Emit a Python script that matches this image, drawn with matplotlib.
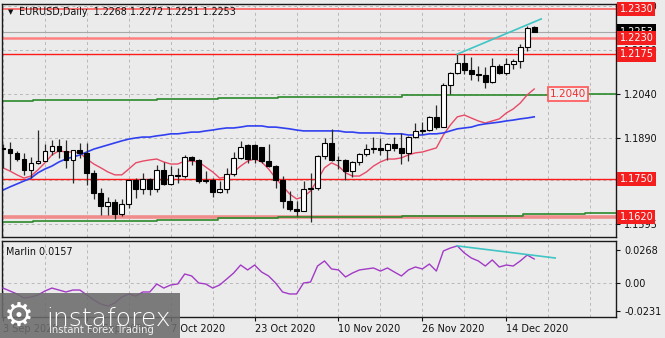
import matplotlib
matplotlib.use('Agg')
import matplotlib.pyplot as plt
import matplotlib.transforms as mtransforms
from matplotlib.patches import Rectangle

plt.rcParams['font.family'] = ['DejaVu Sans']

# ---------------- data ----------------
date_tick_idx = [0, 12, 24, 36, 48, 60, 72]
date_tick_labels = ['3 Sep 2020', '21 Sep 2020', '7 Oct 2020', '23 Oct 2020',
                    '10 Nov 2020', '26 Nov 2020', '14 Dec 2020']

opens = [1.1854, 1.1851, 1.1837, 1.1818, 1.1779, 1.1803, 1.1813, 1.1845, 1.1862, 1.1846,
         1.1815, 1.1849, 1.1840, 1.1769, 1.1702, 1.1659, 1.1671, 1.1632, 1.1666, 1.1745,
         1.1717, 1.1749, 1.1716, 1.1782, 1.1734, 1.1765, 1.1760, 1.1825, 1.1814, 1.1746,
         1.1746, 1.1705, 1.1717, 1.1767, 1.1820, 1.1866, 1.1866, 1.1859, 1.1813, 1.1795,
         1.1746, 1.1675, 1.1646, 1.1642, 1.1716, 1.1720, 1.1828, 1.1874, 1.1815, 1.1814,
         1.1776, 1.1807, 1.1834, 1.1853, 1.1857, 1.1850, 1.1870, 1.1856, 1.1839, 1.1892,
         1.1915, 1.1917, 1.1962, 1.1927, 1.2071, 1.2113, 1.2146, 1.2121, 1.2108, 1.2105,
         1.2081, 1.2134, 1.2110, 1.2143, 1.2151, 1.2199, 1.2268]
highs = [1.1869, 1.1875, 1.1846, 1.1837, 1.1826, 1.1917, 1.1871, 1.1883, 1.1888, 1.1882,
         1.1850, 1.1873, 1.1872, 1.1779, 1.1720, 1.1688, 1.1680, 1.1681, 1.1745, 1.1755,
         1.1770, 1.1752, 1.1798, 1.1809, 1.1793, 1.1786, 1.1831, 1.1828, 1.1818, 1.1776,
         1.1755, 1.1744, 1.1789, 1.1843, 1.1881, 1.1870, 1.1868, 1.1860, 1.1870, 1.1797,
         1.1760, 1.1708, 1.1675, 1.1742, 1.1770, 1.1833, 1.1891, 1.1920, 1.1829, 1.1818,
         1.1812, 1.1838, 1.1869, 1.1893, 1.1891, 1.1874, 1.1892, 1.1906, 1.1897, 1.1941,
         1.1943, 1.1965, 1.2004, 1.2077, 1.2114, 1.2176, 1.2178, 1.2167, 1.2134, 1.2133,
         1.2162, 1.2143, 1.2163, 1.2160, 1.2209, 1.2273, 1.2272]
lows = [1.1789, 1.1781, 1.1810, 1.1765, 1.1755, 1.1800, 1.1810, 1.1831, 1.1822, 1.1789,
        1.1737, 1.1823, 1.1728, 1.1683, 1.1628, 1.1627, 1.1612, 1.1625, 1.1651, 1.1685,
        1.1700, 1.1695, 1.1707, 1.1728, 1.1728, 1.1737, 1.1755, 1.1796, 1.1735, 1.1735,
        1.1689, 1.1702, 1.1703, 1.1761, 1.1817, 1.1803, 1.1803, 1.1803, 1.1791, 1.1718,
        1.1650, 1.1640, 1.1622, 1.1640, 1.1603, 1.1711, 1.1818, 1.1810, 1.1783, 1.1745,
        1.1756, 1.1798, 1.1829, 1.1838, 1.1832, 1.1814, 1.1846, 1.1801, 1.1813, 1.1889,
        1.1905, 1.1914, 1.1922, 1.1926, 1.2041, 1.2109, 1.2107, 1.2088, 1.2083, 1.2059,
        1.2079, 1.2108, 1.2104, 1.2125, 1.2130, 1.2186, 1.2251]
closes = [1.1851, 1.1837, 1.1818, 1.1779, 1.1803, 1.1813, 1.1845, 1.1862, 1.1846, 1.1815,
          1.1849, 1.1840, 1.1769, 1.1702, 1.1659, 1.1671, 1.1632, 1.1666, 1.1745, 1.1717,
          1.1749, 1.1716, 1.1782, 1.1734, 1.1765, 1.1760, 1.1825, 1.1814, 1.1744, 1.1743,
          1.1705, 1.1717, 1.1767, 1.1820, 1.1860, 1.1818, 1.1818, 1.1813, 1.1795, 1.1746,
          1.1675, 1.1646, 1.1642, 1.1716, 1.1720, 1.1828, 1.1874, 1.1815, 1.1814, 1.1776,
          1.1807, 1.1834, 1.1853, 1.1857, 1.1850, 1.1870, 1.1856, 1.1839, 1.1892, 1.1915,
          1.1917, 1.1962, 1.1927, 1.2071, 1.2113, 1.2146, 1.2121, 1.2108, 1.2105, 1.2081,
          1.2134, 1.2110, 1.2143, 1.2151, 1.2199, 1.2265, 1.2253]

red_ma = [1.1788, 1.1777, 1.1764, 1.1753, 1.1760, 1.1781, 1.1805, 1.1832, 1.1846, 1.1842,
          1.1842, 1.1839, 1.1818, 1.1801, 1.1788, 1.1774, 1.1764, 1.1764, 1.1784, 1.1805,
          1.1811, 1.1815, 1.1818, 1.1808, 1.1801, 1.1801, 1.1811, 1.1811, 1.1808, 1.1791,
          1.1774, 1.1753, 1.1757, 1.1774, 1.1794, 1.1811, 1.1818, 1.1808, 1.1784, 1.1753,
          1.1726, 1.1699, 1.1682, 1.1689, 1.1709, 1.1747, 1.1788, 1.1805, 1.1794, 1.1771,
          1.1760, 1.1760, 1.1774, 1.1794, 1.1808, 1.1818, 1.1818, 1.1822, 1.1832, 1.1839,
          1.1842, 1.1849, 1.1856, 1.1900, 1.1934, 1.1962, 1.1968, 1.1958, 1.1948, 1.1941,
          1.1948, 1.1955, 1.1975, 1.1989, 1.2009, 1.2037, 1.2057]
blue_ma = [1.1712, 1.1723, 1.1733, 1.1743, 1.1753, 1.1771, 1.1784, 1.1794, 1.1808, 1.1818,
           1.1825, 1.1832, 1.1842, 1.1852, 1.1859, 1.1866, 1.1873, 1.1880, 1.1886, 1.1890,
           1.1893, 1.1893, 1.1897, 1.1900, 1.1904, 1.1904, 1.1907, 1.1910, 1.1910, 1.1914,
           1.1917, 1.1921, 1.1924, 1.1924, 1.1927, 1.1931, 1.1931, 1.1931, 1.1927, 1.1927,
           1.1924, 1.1921, 1.1917, 1.1914, 1.1914, 1.1914, 1.1914, 1.1914, 1.1914, 1.1910,
           1.1910, 1.1907, 1.1907, 1.1907, 1.1907, 1.1904, 1.1904, 1.1904, 1.1900, 1.1900,
           1.1900, 1.1904, 1.1904, 1.1907, 1.1914, 1.1921, 1.1924, 1.1927, 1.1934, 1.1938,
           1.1941, 1.1944, 1.1948, 1.1951, 1.1955, 1.1958, 1.1962]

green_breaks = [-1, 4.3, 13.2, 22.0, 30.8, 39.3, 48.2, 57.1, 65.8, 74.4, 83.3, 90]
green_upper = [1.2016, 1.2019, 1.2021, 1.2023, 1.2025, 1.2029, 1.2031, 1.2035, 1.2036, 1.2038, 1.2040]
green_lower = [1.1603, 1.1607, 1.1608, 1.1610, 1.1617, 1.1619, 1.1620, 1.1624, 1.1625, 1.1631, 1.1634]

marlin = [-0.0041, -0.0065, -0.0089, -0.0122, -0.0114, -0.0097, -0.0065, -0.0041, -0.0057, -0.0073,
          -0.0057, -0.0057, -0.0097, -0.0138, -0.0171, -0.0187, -0.0162, -0.0114, -0.0089, -0.0106,
          -0.0073, -0.0073, -0.0008, -0.0041, -0.0016, -0.0008, 0.0073, 0.0057, 0.0000, -0.0008,
          -0.0041, -0.0016, 0.0032, 0.0081, 0.0146, 0.0106, 0.0146, 0.0089, 0.0057, 0.0000,
          -0.0073, -0.0089, -0.0089, 0.0000, 0.0008, 0.0138, 0.0179, 0.0114, 0.0106, 0.0049,
          0.0081, 0.0106, 0.0114, 0.0122, 0.0097, 0.0122, 0.0089, 0.0057, 0.0106, 0.0130,
          0.0114, 0.0154, 0.0097, 0.0260, 0.0284, 0.0301, 0.0244, 0.0203, 0.0179, 0.0138,
          0.0187, 0.0130, 0.0146, 0.0138, 0.0179, 0.0227, 0.0195]

levels = [1.2330, 1.2230, 1.2175, 1.1750, 1.1620]
level_colors = ['#ff5c5c', '#ff8080', '#ff1a1a', '#ff1a1a', '#f08c8c']
level_widths = [1.2, 1.8, 1.0, 1.0, 2.6]
bid_price = 1.2253
marked_level = 1.2040

price_ticks = [1.2340, 1.2190, 1.2040, 1.1890, 1.1745, 1.1595]
price_tick_labels = ['1.2340', '1.2190', '1.2040', '1.1890', '1.1745', '1.1595']
marlin_ticks = [0.0268, 0.0, -0.0231]
marlin_tick_labels = ['0.0268', '0.00', '-0.0231']

trend_main_x = [65, 77]
trend_main_y = [1.2176, 1.2296]
trend_ind_x = [65, 79]
trend_ind_y = [0.0301, 0.0203]

title_text = 'EURUSD,Daily  1.2268 1.2272 1.2251 1.2253'
ind_label = 'Marlin 0.0157'

# ---------------- figure ----------------
W, H = 665, 338
fig = plt.figure(figsize=(W / 100, H / 100), dpi=100)
bg = '#ebebeb'
fig.patch.set_facecolor(bg)

x_left, x_right = -0.14, 87.7
ax = fig.add_axes([2 / W, 1 - 237 / H, 614 / W, 233 / H])
ax2 = fig.add_axes([2 / W, 1 - 317 / H, 614 / W, 76 / H])
for a in (ax, ax2):
    a.set_facecolor(bg)
    a.set_xlim(x_left, x_right)
    for s in a.spines.values():
        s.set_color('#1a1a1a')
        s.set_linewidth(1.0)
ax.set_ylim(1.1552, 1.2347)
ax2.set_ylim(-0.0276, 0.0341)

grid_kw = dict(color='#b9b9b9', lw=0.7, ls=(0, (3, 3)), zorder=0.5)
for g in range(0, 88, 6):
    ax.axvline(g, **grid_kw)
    ax2.axvline(g, **grid_kw)
for p in price_ticks:
    ax.axhline(p, **grid_kw)
ax2.axhline(0.0, **grid_kw)

# horizontal levels
for lv, c, w in zip(levels, level_colors, level_widths):
    ax.axhline(lv, color=c, lw=w, zorder=1)
ax.axhline(bid_price, color='#a8a8a8', lw=0.8, zorder=1)

# green step lines
ax.step(green_breaks, green_upper + [green_upper[-1]], where='post', color='#2b8a2b', lw=1.2, zorder=1.5)
ax.step(green_breaks, green_lower + [green_lower[-1]], where='post', color='#2b8a2b', lw=1.2, zorder=1.5)

idx = list(range(len(opens)))
# moving averages
ax.plot(idx, red_ma, color='#e84a66', lw=1.0, zorder=2)
ax.plot(idx, blue_ma, color='#3040f0', lw=1.2, zorder=2)

# candles
body_w = 0.68
for i, o, h, l, c in zip(idx, opens, highs, lows, closes):
    ax.vlines(i, l, h, color='#2a2a2a', lw=0.9, zorder=3)
    bottom = min(o, c)
    height = max(abs(c - o), 0.00012)
    fc = 'white' if c >= o else 'black'
    ax.bar(i, height, bottom=bottom, width=body_w, facecolor=fc, edgecolor='black',
           linewidth=0.8, zorder=3.5)

ax.plot(trend_main_x, trend_main_y, color='#40c4c4', lw=1.2, zorder=4)

# axis ticks
ax.set_xticks([])
ax.yaxis.tick_right()
ax.set_yticks(price_ticks)
ax.set_yticklabels(price_tick_labels)
ax.tick_params(axis='y', length=3, width=0.8, pad=3, labelsize=7, colors='#111111')

# right side price labels
trans = mtransforms.blended_transform_factory(fig.transFigure, ax.transData)
fs = 7
for lv in levels:
    ax.text(619.5 / W, lv, f'{lv:.4f}', transform=trans, fontsize=fs, color='white',
            va='center', ha='left', zorder=10, clip_on=False,
            bbox=dict(boxstyle='square,pad=0.22', fc='#f41e1e', ec='none'))
ax.text(619.5 / W, bid_price, f'{bid_price:.4f}', transform=trans, fontsize=fs, color='white',
        va='center', ha='left', zorder=9, clip_on=False,
        bbox=dict(boxstyle='square,pad=0.22', fc='black', ec='none'))

# in-chart marked label
ax.text(80.8, marked_level, f'{marked_level:.4f}', fontsize=7.5, color='#f03030',
        va='center', ha='center', zorder=6,
        bbox=dict(boxstyle='square,pad=0.2', fc='#eeeeee', ec='#ff6060', lw=1.3))

# title
ax.text(0.009, 0.967, '\u25bc', transform=ax.transAxes, fontsize=5, va='center', ha='left',
        color='#111111', zorder=8)
ax.text(17 / 614, 0.966, title_text, transform=ax.transAxes, fontsize=6.9, va='center',
        ha='left', color='#111111', zorder=8)

# indicator panel
ax2.plot(idx, marlin, color='#a23ac6', lw=1.0, zorder=3)
ax2.plot(trend_ind_x, trend_ind_y, color='#40c4c4', lw=1.2, zorder=4)
ax2.text(4 / 614, 0.86, ind_label, transform=ax2.transAxes, fontsize=6.9, va='center',
         ha='left', color='#111111')
ax2.yaxis.tick_right()
ax2.set_yticks(marlin_ticks)
ax2.set_yticklabels(marlin_tick_labels)
ax2.tick_params(axis='y', length=3, width=0.8, pad=3, labelsize=7, colors='#111111')
ax2.set_xticks(date_tick_idx)
ax2.set_xticklabels(date_tick_labels)
for lab in ax2.get_xticklabels():
    lab.set_ha('left')
ax2.tick_params(axis='x', length=3, width=0.8, pad=2, labelsize=7, colors='#111111')

# watermark
fig.patches.append(Rectangle((0, 0), 180 / W, 45 / H, transform=fig.transFigure,
                             facecolor='#6c6c6c', alpha=0.88, edgecolor='none', zorder=20))
fig.text(4 / W, 22 / H, '\u2699', fontsize=24, color='white', va='center', ha='left', zorder=21)
fig.text(46 / W, 19 / H, 'instaforex', fontsize=18, color='white', va='center', ha='left',
         zorder=21, fontweight='light')
fig.text(49 / W, 8 / H, 'Instant Forex Trading', fontsize=7.2, color='#eeeeee', va='center',
         ha='left', zorder=21)

fig.savefig('out.png', dpi=100, facecolor=fig.get_facecolor())
